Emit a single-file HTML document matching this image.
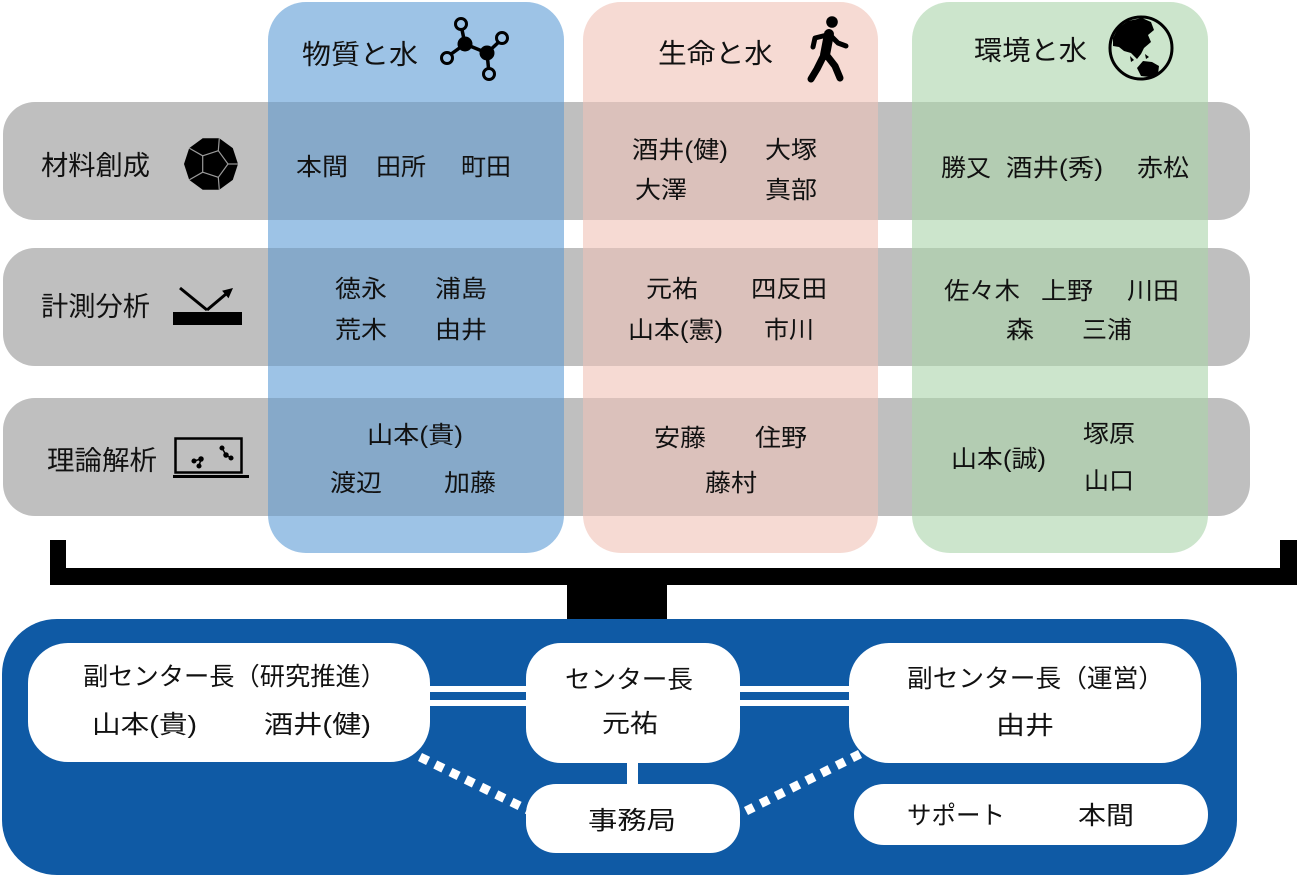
<!DOCTYPE html>
<html><head><meta charset="utf-8"><style>
html,body{margin:0;padding:0;background:#fff;}
svg{display:block;}
text{font-family:"Liberation Sans","Noto Sans CJK JP",sans-serif;fill:#111;}
</style></head><body>
<svg width="1297" height="877" viewBox="0 0 1297 877" xmlns="http://www.w3.org/2000/svg">
<!-- columns -->
<rect x="268" y="2" width="296" height="551" rx="38" fill="#9dc3e6"/>
<rect x="583" y="2" width="295" height="551" rx="38" fill="#f6dad3"/>
<rect x="912" y="2" width="296" height="551" rx="38" fill="#cce5cc"/>
<!-- rows -->
<rect x="3" y="102" width="1247" height="118" rx="32" fill="#bfbfbf"/>
<rect x="3" y="248" width="1247" height="118" rx="32" fill="#bfbfbf"/>
<rect x="3" y="398" width="1247" height="118" rx="32" fill="#bfbfbf"/>
<!-- overlaps -->
<g>
<rect x="268" y="102" width="296" height="118" fill="#86a9c9"/>
<rect x="268" y="248" width="296" height="118" fill="#86a9c9"/>
<rect x="268" y="398" width="296" height="118" fill="#86a9c9"/>
<rect x="583" y="102" width="295" height="118" fill="#dbc1bb"/>
<rect x="583" y="248" width="295" height="118" fill="#dbc1bb"/>
<rect x="583" y="398" width="295" height="118" fill="#dbc1bb"/>
<rect x="912" y="102" width="296" height="118" fill="#b3ccb2"/>
<rect x="912" y="248" width="296" height="118" fill="#b3ccb2"/>
<rect x="912" y="398" width="296" height="118" fill="#b3ccb2"/>
</g>

<!-- headers -->
<text x="302" y="64" font-size="27" textLength="116" lengthAdjust="spacingAndGlyphs">物質と水</text>
<text x="658" y="63" font-size="27" textLength="115" lengthAdjust="spacingAndGlyphs">生命と水</text>
<text x="974" y="60" font-size="27" textLength="113" lengthAdjust="spacingAndGlyphs">環境と水</text>

<!-- molecule icon -->
<g stroke="#000" stroke-width="3.5">
<line x1="465" y1="44" x2="461" y2="25"/>
<line x1="465" y1="44" x2="447" y2="57"/>
<line x1="465" y1="44" x2="487" y2="53"/>
<line x1="487" y1="53" x2="502" y2="39"/>
<line x1="487" y1="53" x2="489" y2="73"/>
</g>
<circle cx="465" cy="44" r="7.5" fill="#000"/>
<circle cx="487" cy="53" r="7.5" fill="#000"/>
<g fill="#9dc3e6" stroke="#000" stroke-width="3">
<circle cx="461" cy="24" r="5.5"/>
<circle cx="447" cy="58" r="5.5"/>
<circle cx="502" cy="38" r="5.5"/>
<circle cx="489" cy="74" r="5.5"/>
</g>

<!-- walking person -->
<g stroke="#000" stroke-linecap="round" stroke-linejoin="round" fill="none">
<circle cx="832" cy="22" r="5.8" fill="#000" stroke="none"/>
<line x1="829" y1="34" x2="825" y2="55" stroke-width="10"/>
<polyline points="823,57 817,69 811,79" stroke-width="7"/>
<polyline points="828,57 835,66 840,78" stroke-width="7"/>
<polyline points="827,35 815,38 813,47" stroke-width="5"/>
<polyline points="831,36 838,43 846,46" stroke-width="5"/>
</g>

<!-- globe -->
<circle cx="1141" cy="48" r="31" fill="none" stroke="#000" stroke-width="3"/>
<path d="M1113,38 L1118,28 L1128,21 L1142,18 L1151,22 L1154,30 L1148,35 L1151,42 L1144,48 L1141,54 L1137,59 L1131,53 L1124,51 L1119,47 L1113,46 Z" fill="#000"/>
<path d="M1130,56 L1134,60 L1131,62 Z M1145,54 L1149,57 L1146,59 Z" fill="#000"/>
<path d="M1137,68 L1143,61 L1152,62 L1159,66 L1158,74 L1150,77 L1141,76 Z" fill="#000"/>

<!-- row labels -->
<text x="41" y="175" font-size="27" textLength="109" lengthAdjust="spacingAndGlyphs">材料創成</text>
<text x="41" y="316" font-size="27" textLength="109" lengthAdjust="spacingAndGlyphs">計測分析</text>
<text x="47" y="470" font-size="27" textLength="110" lengthAdjust="spacingAndGlyphs">理論解析</text>

<!-- dodecahedron -->
<polygon points="238,164 232.8,179.9 219.3,189.7 202.7,189.7 189.2,179.9 184,164 189.2,148.1 202.7,138.3 219.3,138.3 232.8,148.1" fill="#000"/>
<g stroke="#9a9a9a" stroke-width="1.2" fill="none">
<polygon points="228,164 218.3,177.3 202.7,172.2 202.7,155.8 218.3,150.7"/>
<line x1="228" y1="164" x2="238" y2="164"/>
<line x1="218.3" y1="177.3" x2="219.3" y2="189.7"/>
<line x1="202.7" y1="172.2" x2="189.2" y2="179.9"/>
<line x1="202.7" y1="155.8" x2="189.2" y2="148.1"/>
<line x1="218.3" y1="150.7" x2="219.3" y2="138.3"/>
</g>

<!-- measurement icon -->
<rect x="173" y="312" width="69" height="13" fill="#000"/>
<line x1="180" y1="288" x2="207" y2="310" stroke="#000" stroke-width="3"/>
<line x1="207" y1="310" x2="226" y2="294" stroke="#000" stroke-width="3"/>
<polygon points="233,288 228.5,298.3 222.1,290.7" fill="#000"/>

<!-- laptop icon -->
<rect x="175.5" y="438.5" width="66" height="34" fill="none" stroke="#000" stroke-width="2.5"/>
<line x1="173" y1="476.5" x2="249" y2="476.5" stroke="#000" stroke-width="3"/>
<g stroke="#000" stroke-width="1.5" fill="#000">
<line x1="194" y1="461" x2="201" y2="459"/>
<line x1="201" y1="459" x2="199" y2="466"/>
<circle cx="194" cy="461" r="1.8"/><circle cx="201" cy="459" r="2"/><circle cx="199" cy="466" r="1.8"/>
<line x1="222" y1="448" x2="226" y2="455"/>
<line x1="226" y1="455" x2="231" y2="458"/>
<circle cx="222" cy="448" r="1.8"/><circle cx="226" cy="455" r="2"/><circle cx="231" cy="458" r="1.8"/>
</g>

<!-- names: blue -->
<g font-size="24">
<text x="296" y="175" textLength="52" lengthAdjust="spacingAndGlyphs">本間</text>
<text x="376" y="175" textLength="50" lengthAdjust="spacingAndGlyphs">田所</text>
<text x="461" y="175" textLength="50" lengthAdjust="spacingAndGlyphs">町田</text>
<text x="335" y="297" textLength="52" lengthAdjust="spacingAndGlyphs">徳永</text>
<text x="435" y="297" textLength="52" lengthAdjust="spacingAndGlyphs">浦島</text>
<text x="335" y="338" textLength="52" lengthAdjust="spacingAndGlyphs">荒木</text>
<text x="435" y="338" textLength="52" lengthAdjust="spacingAndGlyphs">由井</text>
<text x="367" y="443" textLength="96" lengthAdjust="spacingAndGlyphs">山本(貴)</text>
<text x="330" y="491" textLength="52" lengthAdjust="spacingAndGlyphs">渡辺</text>
<text x="444" y="491" textLength="52" lengthAdjust="spacingAndGlyphs">加藤</text>

<!-- pink -->
<text x="632" y="158" textLength="96" lengthAdjust="spacingAndGlyphs">酒井(健)</text>
<text x="765" y="158" textLength="52" lengthAdjust="spacingAndGlyphs">大塚</text>
<text x="635" y="198" textLength="52" lengthAdjust="spacingAndGlyphs">大澤</text>
<text x="765" y="198" textLength="52" lengthAdjust="spacingAndGlyphs">真部</text>
<text x="646" y="297" textLength="52" lengthAdjust="spacingAndGlyphs">元祐</text>
<text x="751" y="297" textLength="76" lengthAdjust="spacingAndGlyphs">四反田</text>
<text x="628" y="338" textLength="95" lengthAdjust="spacingAndGlyphs">山本(憲)</text>
<text x="764" y="338" textLength="50" lengthAdjust="spacingAndGlyphs">市川</text>
<text x="654" y="446" textLength="52" lengthAdjust="spacingAndGlyphs">安藤</text>
<text x="755" y="446" textLength="52" lengthAdjust="spacingAndGlyphs">住野</text>
<text x="705" y="491" textLength="52" lengthAdjust="spacingAndGlyphs">藤村</text>

<!-- green -->
<text x="941" y="176" textLength="50" lengthAdjust="spacingAndGlyphs">勝又</text>
<text x="1006" y="176" textLength="97" lengthAdjust="spacingAndGlyphs">酒井(秀)</text>
<text x="1137" y="176" textLength="52" lengthAdjust="spacingAndGlyphs">赤松</text>
<text x="944" y="299" textLength="76" lengthAdjust="spacingAndGlyphs">佐々木</text>
<text x="1041" y="299" textLength="52" lengthAdjust="spacingAndGlyphs">上野</text>
<text x="1127" y="299" textLength="52" lengthAdjust="spacingAndGlyphs">川田</text>
<text x="1006" y="338" textLength="28" lengthAdjust="spacingAndGlyphs">森</text>
<text x="1082" y="338" textLength="50" lengthAdjust="spacingAndGlyphs">三浦</text>
<text x="951" y="467" textLength="95" lengthAdjust="spacingAndGlyphs">山本(誠)</text>
<text x="1083" y="442" textLength="52" lengthAdjust="spacingAndGlyphs">塚原</text>
<text x="1084" y="489" textLength="50" lengthAdjust="spacingAndGlyphs">山口</text>
</g>

<!-- bracket -->
<rect x="50" y="540" width="16" height="45" fill="#000"/>
<rect x="50" y="568" width="1247" height="17" fill="#000"/>
<rect x="1280" y="540" width="17" height="45" fill="#000"/>
<rect x="567" y="584" width="100" height="37" fill="#000"/>

<!-- blue org box -->
<rect x="2" y="619" width="1235" height="256" rx="55" fill="#0f5aa5"/>

<!-- connectors -->
<rect x="428" y="686" width="100" height="6" fill="#fff"/>
<rect x="428" y="700" width="100" height="6" fill="#fff"/>
<rect x="738" y="686" width="113" height="6" fill="#fff"/>
<rect x="738" y="700" width="113" height="6" fill="#fff"/>
<rect x="627" y="760" width="11" height="27" fill="#fff"/>
<line x1="420" y1="757" x2="530" y2="811" stroke="#fff" stroke-width="9" stroke-dasharray="9 8"/>
<line x1="860" y1="754" x2="746" y2="811" stroke="#fff" stroke-width="9" stroke-dasharray="9 8"/>

<!-- white boxes -->
<rect x="28" y="643" width="402" height="119" rx="40" fill="#fff"/>
<rect x="526" y="643" width="214" height="120" rx="35" fill="#fff"/>
<rect x="526" y="784" width="214" height="69" rx="30" fill="#fff"/>
<rect x="849" y="643" width="352" height="120" rx="40" fill="#fff"/>
<rect x="854" y="784" width="354" height="61" rx="30" fill="#fff"/>

<!-- org text -->
<g font-size="25">
<text x="83" y="685" textLength="303" lengthAdjust="spacingAndGlyphs">副センター長（研究推進）</text>
<text x="92" y="733" textLength="105" lengthAdjust="spacingAndGlyphs">山本(貴)</text>
<text x="264" y="733" textLength="107" lengthAdjust="spacingAndGlyphs">酒井(健)</text>
<text x="565" y="688" textLength="128" lengthAdjust="spacingAndGlyphs">センター長</text>
<text x="602" y="732" textLength="56" lengthAdjust="spacingAndGlyphs">元祐</text>
<text x="588" y="829" textLength="88" lengthAdjust="spacingAndGlyphs">事務局</text>
<text x="907" y="687" textLength="257" lengthAdjust="spacingAndGlyphs">副センター長（運営）</text>
<text x="996" y="734" textLength="58" lengthAdjust="spacingAndGlyphs">由井</text>
<text x="907" y="824" textLength="98" lengthAdjust="spacingAndGlyphs">サポート</text>
<text x="1078" y="824" textLength="56" lengthAdjust="spacingAndGlyphs">本間</text>
</g>
</svg>
</body></html>
